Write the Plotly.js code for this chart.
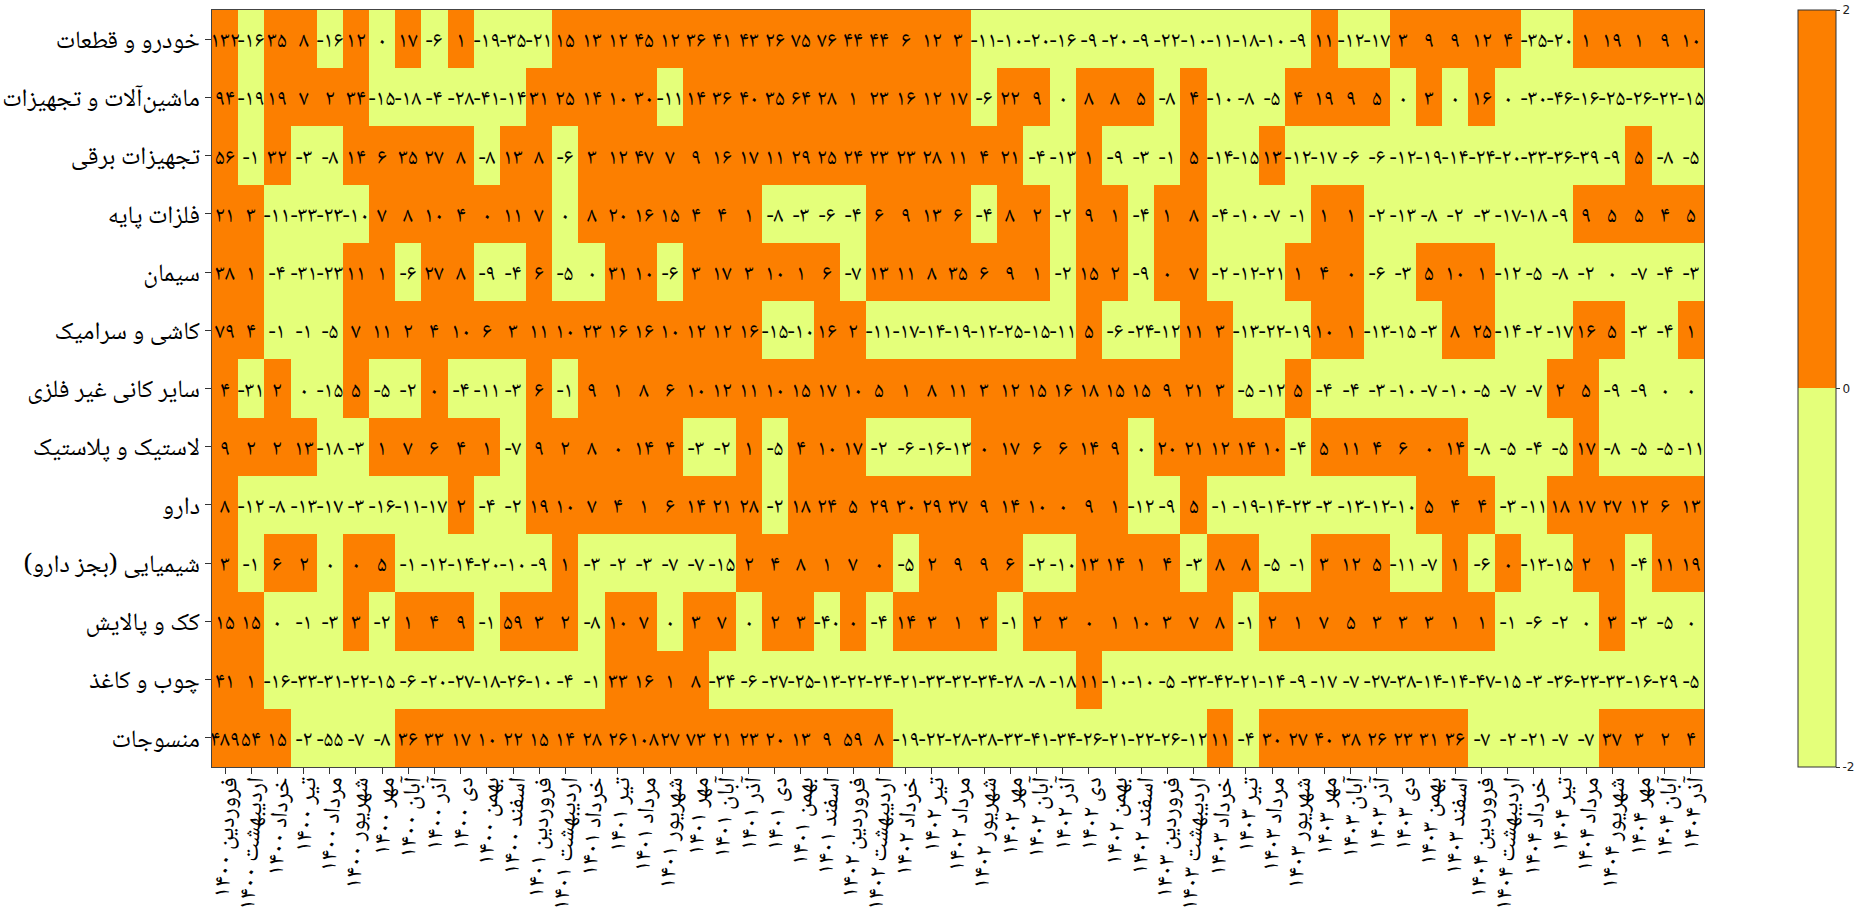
<!DOCTYPE html>
<html><head><meta charset="utf-8">
<script src="https://cdn.plot.ly/plotly-3.0.1.min.js"></script>
<style>html,body{margin:0;padding:0;background:#fff}#c{width:1872px;height:920px}</style>
</head><body><div id="c"></div>
<script>
const sectors = ["خودرو و قطعات","ماشین‌آلات و تجهیزات","تجهیزات برقی","فلزات پایه","سیمان","کاشی و سرامیک","سایر کانی غیر فلزی","لاستیک و پلاستیک","دارو","شیمیایی (بجز دارو)","کک و پالایش","چوب و کاغذ","منسوجات"];
const months = ["فروردین","اردیبهشت","خرداد","تیر","مرداد","شهریور","مهر","آبان","آذر","دی","بهمن","اسفند"];
const years = ["۱۴۰۰","۱۴۰۱","۱۴۰۲","۱۴۰۳","۱۴۰۴"];
// A shown "0" keeps the sign of its unrounded value (it decides the cell colour): +0.2 / -0.2
const r01 = [132,-16,35,8,-16,12,-0.2,17,-6,1,-19,-35,-21,15,13,12,45,12,36,41,43,26,75,76,44,44,6,12,3,-11,-10,-20,-16,-9,-20,-9,-22,-10,-11,-18,-10,-9,11,-12,-17,3,9,9,12,4,-35,-20,1,19,1,9,10];
const r02 = [94,-19,19,7,2,34,-15,-18,-4,-28,-41,-14,31,25,14,10,30,-11,14,36,40,35,64,28,1,23,16,12,17,-6,22,9,-0.2,8,8,5,-8,4,-10,-8,-5,4,19,9,5,-0.2,3,-0.2,16,-0.2,-30,-46,-16,-25,-26,-22,-15];
const r03 = [56,-1,32,-3,-8,14,6,35,27,8,-8,13,8,-6,3,12,47,7,9,16,17,11,29,25,24,23,23,28,11,4,21,-4,-13,1,-9,-3,-1,5,-14,-15,13,-12,-17,-6,-6,-12,-19,-14,-24,-20,-33,-36,-39,-9,5,-8,-5];
const r04 = [21,3,-11,-33,-23,-10,7,8,10,4,0.2,11,7,-0.2,8,20,16,15,4,4,1,-8,-3,-6,-4,6,9,13,6,-4,8,2,-2,9,1,-4,1,8,-4,-10,-7,-1,1,1,-2,-13,-8,-2,-3,-17,-18,-9,9,5,5,4,5];
const r05 = [38,1,-4,-31,-23,11,1,-6,27,8,-9,-4,6,-5,-0.2,31,10,-6,3,17,3,10,1,6,-7,13,11,8,35,6,9,1,-2,15,2,-9,0.2,7,-2,-12,-21,1,4,0.2,-6,-3,5,10,1,-12,-5,-8,-2,-0.2,-7,-4,-3];
const r06 = [79,4,-1,-1,-5,7,11,2,4,10,6,3,11,10,23,16,16,10,12,12,16,-15,-10,16,2,-11,-17,-14,-19,-12,-25,-15,-11,5,-6,-24,-12,11,3,-13,-22,-19,10,1,-13,-15,-3,8,25,-14,-2,-17,16,5,-3,-4,1];
const r07 = [4,-31,2,-0.2,-15,5,-5,-2,0.2,-4,-11,-3,6,-1,9,1,8,6,10,12,11,10,15,17,10,5,1,8,11,3,12,15,16,18,15,15,9,21,3,-5,-12,5,-4,-4,-3,-10,-7,-10,-5,-7,-7,2,5,-9,-9,-0.2,-0.2];
const r08 = [9,2,2,13,-18,-3,1,7,6,4,1,-7,9,2,8,0.2,14,4,-3,-2,1,-5,4,10,17,-2,-6,-16,-13,0.2,17,6,6,14,9,-0.2,20,21,12,14,10,-4,5,11,4,6,0.2,14,-8,-5,-4,-5,17,-8,-5,-5,-11];
const r09 = [8,-12,-8,-13,-17,-3,-16,-11,-17,2,-4,-2,19,10,7,4,1,6,14,21,28,-2,18,24,5,29,30,29,37,9,14,10,0.2,9,1,-12,-9,5,-1,-19,-14,-23,-3,-13,-12,-10,5,4,4,-3,-11,18,17,27,12,6,13];
const r10 = [3,-1,6,2,-0.2,0.2,5,-1,-12,-14,-20,-10,-9,1,-3,-2,-3,-7,-7,-15,2,4,8,1,7,0.2,-5,2,9,9,6,-2,-10,13,14,1,4,-3,8,8,-5,-1,3,12,5,-11,-7,1,-6,0.2,-13,-15,2,1,-4,11,19];
const r11 = [15,15,-0.2,-1,-3,3,-2,1,4,9,-1,59,3,2,-8,10,7,-0.2,3,7,-0.2,2,3,-40,0.2,-4,14,3,1,3,-1,2,3,0.2,1,10,3,7,8,-1,2,1,7,5,3,3,3,1,1,-1,-6,-2,-0.2,3,-3,-5,-0.2];
const r12 = [41,1,-16,-33,-31,-22,-15,-6,-20,-27,-18,-26,-10,-4,-1,33,16,1,8,-34,-6,-27,-25,-13,-22,-24,-21,-33,-32,-34,-28,-8,-18,11,-10,-10,-5,-33,-42,-21,-14,-9,-17,-7,-27,-38,-14,-14,-47,-15,-3,-36,-23,-33,-16,-29,-5];
const r13 = [489,54,15,-2,-55,-7,-8,36,33,17,10,22,15,14,28,26,108,27,73,21,23,20,13,9,59,8,-19,-22,-28,-38,-33,-41,-34,-26,-21,-22,-26,-12,11,-4,30,27,40,38,26,23,31,36,-7,-2,-21,-7,-7,37,3,2,4];
const rows = [r01,r02,r03,r04,r05,r06,r07,r08,r09,r10,r11,r12,r13];

const periods = [];
years.forEach(y => months.forEach(m => periods.push(m + " " + y)));
periods.length = 57;

const fa = n => { const v = Math.round(n); const s = Math.abs(v).toString().replace(/\d/g, d => "۰۱۲۳۴۵۶۷۸۹"[+d]); return (v < 0 ? "-" : "") + s; };
const FONT = '"Noto Naskh Arabic","Noto Sans Arabic","DejaVu Sans",sans-serif';

Plotly.newPlot("c", [{
  type: "heatmap",
  z: rows, x: periods, y: sectors,
  text: rows.map(r => r.map(fa)),
  texttemplate: "%{text}",
  textfont: {family: FONT, size: 22, color: "#000"},
  zmin: -2, zmax: 2,
  colorscale: [[0,"#E4FF7A"],[0.5,"#E4FF7A"],[0.5,"#FC7F00"],[1,"#FC7F00"]],
  colorbar: {
    x: 1.063, xanchor: "left", xpad: 0, y: 0.5, yanchor: "middle", ypad: 0, len: 1, lenmode: "fraction",
    thickness: 38, thicknessmode: "pixels", outlinewidth: 1, outlinecolor: "#333",
    tickmode: "array", tickvals: [-2,0,2], ticktext: ["-2","0","2"], ticks: "outside", ticklen: 4, tickwidth: 1, tickcolor: "#333",
    tickfont: {family: '"DejaVu Sans"', size: 12, color: "#222"}
  }
}], {
  width: 1872, height: 920,
  margin: {l: 212, r: 168, t: 10, b: 153, pad: 0},
  paper_bgcolor: "#fff", plot_bgcolor: "#fff",
  font: {family: FONT, color: "#000"},
  xaxis: {type: "category", tickangle: -86, ticklabelstandoff: -14, tickfont: {family: FONT, size: 24, color: "#000"}, ticks: "outside", ticklen: 6, tickwidth: 1, tickcolor: "#333", showline: true, mirror: true, linecolor: "#444", linewidth: 1, showgrid: false, zeroline: false, automargin: false, tickmode: "array", tickvals: periods, ticktext: periods},
  yaxis: {type: "category", autorange: "reversed", tickfont: {family: FONT, size: 25, color: "#000"}, ticks: "outside", ticklen: 6, tickwidth: 1, tickcolor: "#333", showline: true, mirror: true, linecolor: "#444", linewidth: 1, showgrid: false, zeroline: false, automargin: false}
}, {displayModeBar: false});
</script></body></html>
